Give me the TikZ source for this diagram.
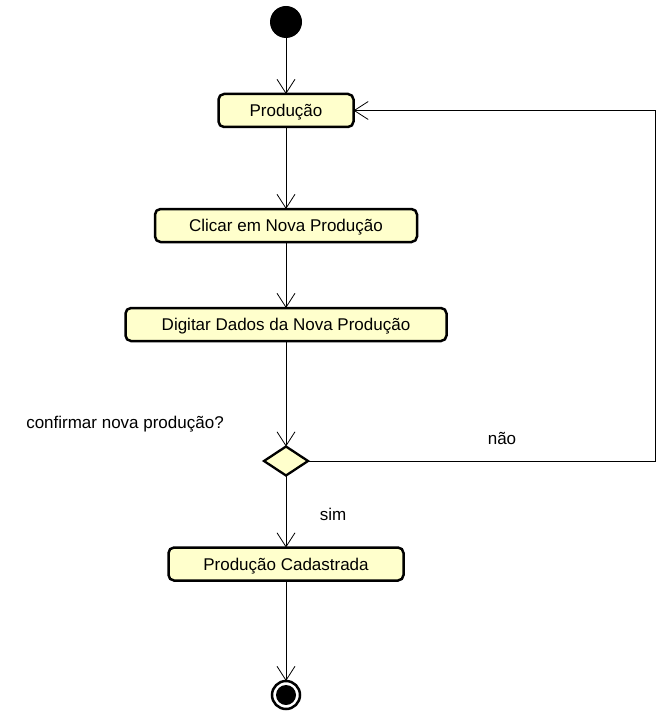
\documentclass[tikz,border=0pt]{standalone}
\usepackage{fontspec}
\setmainfont{Liberation Sans}
\usetikzlibrary{positioning,shapes.geometric,arrows.meta}
\definecolor{actfill}{RGB}{255,255,204}
\begin{document}
\begin{tikzpicture}[
			x=1pt, y=-1pt,
			font=\fontsize{17}{20}\selectfont,
			act/.style = {draw, rounded corners=5.5pt, line width=2.5pt, fill=actfill, minimum height=33pt, inner sep=0pt, outer sep=0pt, text height=12pt, text depth=0pt},
			dec/.style = {draw, diamond, line width=2.3pt, fill=actfill, minimum width=44pt, minimum height=29pt, inner sep=0pt, outer sep=0pt},
			ini/.style = {circle, fill=black, minimum size=32pt, inner sep=0pt, outer sep=0pt},
			fin/.style = {circle, draw, line width=2.5pt, fill=white, minimum size=28pt, inner sep=0pt, outer sep=0pt},
			fincore/.style = {circle, fill=black, minimum size=20pt, inner sep=0pt},
			arr/.style = {-{Straight Barb[length=14pt, width=18pt]}, line width=0.8pt}
		]
		\useasboundingbox (0,0) rectangle (665,714);
		\node[ini] (start) at (286,22) {};
		% Activities.
		\node[act, minimum width=135pt, below of=start, node distance=88.5pt] (prod) {Produção};
		\node[act, minimum width=262pt, below of=prod, node distance=115pt] (clicar) {Clicar em Nova Produção};
		\node[act, minimum width=321pt, below of=clicar, node distance=99pt] (digitar) {Digitar Dados da Nova Produção};
		% Decision.
		\node[dec, below of=digitar, node distance=136.5pt] (conf) {};
		\node[act, minimum width=235pt, below of=conf, node distance=103pt] (cad) {Produção Cadastrada};
		% Final.
		\node[fin, below of=cad, node distance=131pt] (end) {};
		\node[fincore] (endcore) at (end) {};
		% Labels.
		\node (q) at (125,424) {confirmar nova produção?};
		\node (nao) at (502,438) {não};
		\node (sim) at (333,514) {sim};
		\coordinate (loop) at (655,0);
		
		\draw[arr] (start) to (prod);
		\draw[arr] (prod) to (clicar);
		\draw[arr] (clicar) to (digitar);
		\draw[arr] (digitar) to (conf);
		\draw[arr] (conf) to (cad);
		\draw[arr] (cad) to (end);
		\draw[arr] (conf.east) -- (conf.east -| loop) |- (prod.east);
	\end{tikzpicture}
\end{document}
